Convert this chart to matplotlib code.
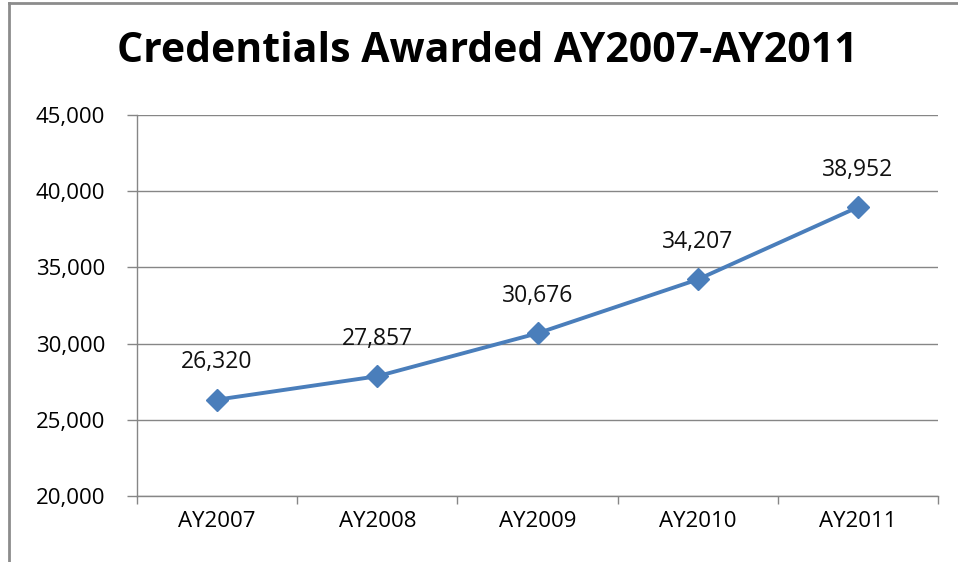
import matplotlib
matplotlib.use("Agg")
from matplotlib import pyplot as plt
from matplotlib.lines import Line2D
import matplotlib.ticker as mticker

years = ["AY2007", "AY2008", "AY2009", "AY2010", "AY2011"]
credentials = [26320, 27857, 30676, 34207, 38952]
y_ticks = [20000, 25000, 30000, 35000, 40000, 45000]

plt.rcParams['font.family'] = ['Open Sans', 'DejaVu Sans']

def main():
    fig = plt.figure(figsize=(9.58, 5.62), dpi=100)
    ax = fig.add_axes([137 / 958, 1 - 496 / 562, (938 - 137) / 958, (496 - 115) / 562])
    grid_col = "#868686"

    x = list(range(len(years)))
    ax.plot(x, credentials, color="#4A7EBB", lw=2.8, marker="D", markersize=11,
            markerfacecolor="#4A7EBB", markeredgecolor="#4A7EBB", zorder=3)
    for xi, v in zip(x, credentials):
        ax.annotate(f"{v:,}", (xi, v), xytext=(0, 27), textcoords="offset points",
                    ha="center", va="center", fontsize=16.5, color="#111111")

    ax.set_xlim(-0.5, len(years) - 0.5)
    ax.set_ylim(y_ticks[0], y_ticks[-1])
    ax.set_yticks(y_ticks)
    ax.yaxis.set_major_formatter(mticker.FuncFormatter(lambda v, p: f"{int(v):,}"))
    ax.set_xticks(x)
    ax.set_xticklabels(years)
    ax.set_xticks([i - 0.5 for i in range(len(years) + 1)], minor=True)
    ax.tick_params(axis="x", which="major", length=0, pad=11, labelsize=16)
    ax.tick_params(axis="x", which="minor", length=6, color=grid_col, width=1)
    ax.tick_params(axis="y", length=7, color=grid_col, width=1, pad=16, labelsize=16)
    ax.grid(axis="y", color=grid_col, lw=1)
    ax.set_axisbelow(True)
    for s in ["top", "right"]:
        ax.spines[s].set_visible(False)
    for s in ["left", "bottom"]:
        ax.spines[s].set_color(grid_col)
        ax.spines[s].set_linewidth(1)

    fig.text(487 / 958, 1 - 52 / 562, "Credentials Awarded AY2007-AY2011",
             ha="center", va="center", fontsize=29.5, fontweight="bold")

    # chart border (cropped on right and bottom)
    fig.add_artist(Line2D([9 / 958, 9 / 958], [0, 1 - 3 / 562], color="#8c8c8c", lw=2))
    fig.add_artist(Line2D([9 / 958, 1], [1 - 3 / 562, 1 - 3 / 562], color="#8c8c8c", lw=2))

    fig.savefig("out.png", dpi=100)
    plt.close()

if __name__ == '__main__':
    main()
